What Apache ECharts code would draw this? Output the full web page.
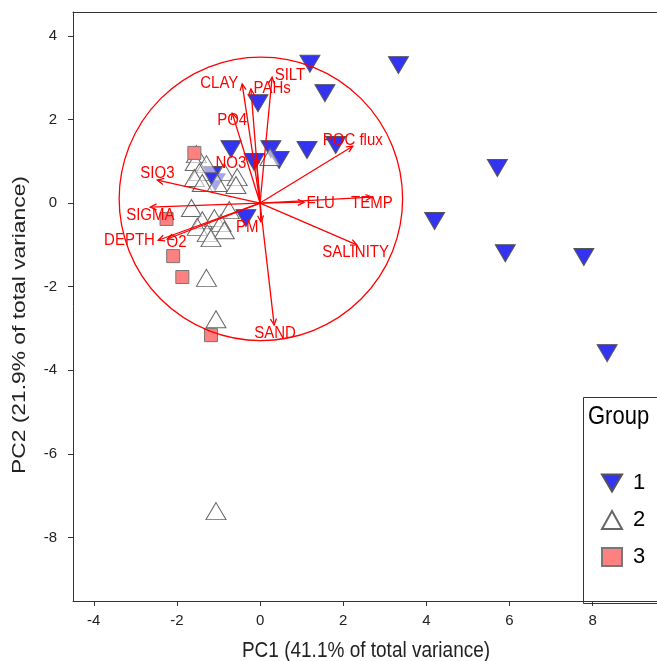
<!DOCTYPE html>
<html><head><meta charset="utf-8">
<script src="https://cdn.jsdelivr.net/npm/echarts@6/dist/echarts.min.js"></script>
<style>html,body{margin:0;padding:0;background:#fff}#c{width:657px;height:661px}</style>
</head><body><div id="c"></div>
<script>
// Group scores (PC1, PC2)
const group1 = [[1.20,3.33],[3.33,3.30],[1.56,2.63],[-0.05,2.39],[-0.70,1.29],[0.26,1.29],[1.13,1.27],[1.82,1.39],[0.46,1.03],[-0.14,0.98],[-1.15,0.67],[-1.08,0.50],[-0.34,-0.36],[5.71,0.84],[4.20,-0.43],[5.90,-1.20],[7.79,-1.29],[8.35,-3.59]];
const group2 = [[-1.53,1.17],[-1.56,0.98],[-1.29,0.93],[-1.46,0.74],[-0.86,0.74],[-0.55,0.62],[-1.58,0.60],[-1.39,0.48],[-1.03,0.48],[-0.58,0.43],[-1.65,-0.12],[-0.74,-0.17],[-1.39,-0.41],[-1.10,-0.36],[-0.94,-0.48],[-1.51,-0.57],[-1.27,-0.72],[-0.86,-0.65],[-1.18,-0.84],[0.24,1.10],[-1.29,-1.79],[-1.06,-2.78],[-1.06,-7.37]];
const group3 = [[-1.58,1.20],[-2.25,-0.38],[-2.09,-1.27],[-1.87,-1.77],[-1.18,-3.16]];
// Variable loadings (arrow tips) and label anchors
const variables = ['CLAY','PAHs','SILT','PO4','POC flux','NO3','SIO3','SIGMA','DEPTH','O2','PM','FLU','TEMP','SALINITY','SAND'];
const loadings = [[-0.43,2.85],[-0.22,2.73],[0.29,3.01],[-0.67,2.15],[2.23,1.36],[-0.10,1.10],[-2.47,0.55],[-2.64,-0.10],[-2.45,-0.89],[-2.23,-0.86],[0.02,-0.45],[1.06,0.02],[2.69,0.14],[2.33,-1.00],[0.34,-2.92]];
const labelAnchors = [[-0.98,2.87],[0.29,2.75],[0.72,3.06],[-0.67,1.99],[2.23,1.51],[-0.70,0.96],[-2.47,0.72],[-2.64,-0.29],[-3.14,-0.89],[-2.01,-0.93],[-0.31,-0.57],[1.46,0.0],[2.69,0.0],[2.30,-1.17],[0.36,-3.11]];
// Correlation circle [cx, cy, r]
const circle = [[0.02,0.1,3.4]];
const xTicks = [-4,-2,0,2,4,6,8];
const yTicks = [4,2,0,-2,-4,-6,-8];
const groups = ['1','2','3'];

const chart = echarts.init(document.getElementById('c'), null, {renderer:'canvas'});
const FONT = '"Liberation Sans", Arial, sans-serif';
const RED = '#ff0000';
const axisCol = '#333';
const DOWN_TRI = 'path://M0,0L20,0L10,17Z';

const arrowData = loadings.map((p,i)=>[p[0],p[1],labelAnchors[i][0],labelAnchors[i][1]]);

chart.setOption({
  animation:false,
  backgroundColor:'#fff',
  grid:{left:73, top:12, right:-2, bottom:60, containLabel:false},
  xAxis:[{
    type:'value', min:-4.5, max:9.55, position:'bottom',
    axisLine:{show:true, onZero:false, lineStyle:{color:axisCol, width:1}},
    axisTick:{show:true, length:5, customValues:xTicks, lineStyle:{color:axisCol}},
    axisLabel:{show:true, customValues:xTicks, fontSize:15, color:'#222', fontFamily:FONT, margin:12},
    splitLine:{show:false}
  },{
    type:'value', min:-4.5, max:9.55, position:'top',
    axisLine:{show:true, onZero:false, lineStyle:{color:axisCol, width:1}},
    axisTick:{show:false}, axisLabel:{show:false}, splitLine:{show:false}
  }],
  yAxis:[{
    type:'value', min:-9.52, max:4.57,
    axisLine:{show:true, onZero:false, lineStyle:{color:axisCol, width:1}},
    axisTick:{show:true, length:5, customValues:yTicks, lineStyle:{color:axisCol}},
    axisLabel:{show:true, customValues:yTicks, fontSize:15, color:'#222', fontFamily:FONT, margin:16},
    splitLine:{show:false}
  }],
  legend:{
    data:[{name:groups[0], icon:DOWN_TRI},{name:groups[1]},{name:groups[2]}],
    orient:'vertical', left:596, top:467, z:20,
    itemWidth:20, itemHeight:18, itemGap:15,
    textStyle:{fontSize:22, color:'#000', fontFamily:FONT, padding:[0,0,0,6]},
    selectedMode:false
  },
  graphic:[
    {type:'rect', left:581, top:395, z:1, shape:{width:90, height:206}, style:{fill:'none', stroke:axisCol, lineWidth:1}, silent:true},
    {type:'text', left:588, top:404, z:2, style:{text:'Group', font:'22px '+FONT, fill:'#000'}, scaleY:1.15},
    {type:'text', x:366, y:651, z:2, scaleY:1.2, style:{text:'PC1 (41.1% of total variance)', font:'19px '+FONT, fill:'#222', align:'center', verticalAlign:'middle'}},
    {type:'text', x:20, y:325, rotation:Math.PI/2, z:2, scaleX:1.2, style:{text:'PC2 (21.9% of total variance)', font:'19px '+FONT, fill:'#222', align:'center', verticalAlign:'middle'}}
  ],
  series:[
    {name:'1', type:'scatter', data:group1, symbol:'triangle', symbolRotate:180, symbolSize:[20,17], z:3,
      itemStyle:{color:'#3333f2', borderColor:'#555', borderWidth:1, opacity:1}},
    {name:'2', type:'scatter', data:group2, symbol:'triangle', symbolSize:[20,17], z:3,
      itemStyle:{color:'rgba(255,255,255,0.55)', borderColor:'#666', borderWidth:1, opacity:1}},
    {name:'3', type:'scatter', data:group3, symbol:'rect', symbolSize:13, z:3,
      itemStyle:{color:'#ff8080', borderColor:'#777', borderWidth:1, opacity:1}},
    {type:'custom', data:circle, z:5, silent:true, encode:{x:0,y:1},
      renderItem:function(params, api){
        const c = api.coord([api.value(0), api.value(1)]);
        const s = api.size([api.value(2), api.value(2)]);
        return {type:'circle', shape:{cx:c[0], cy:c[1], r:(s[0]+s[1])/2}, style:{fill:null, stroke:RED, lineWidth:1.3}};
      }},
    {type:'custom', data:arrowData, z:6, silent:true, encode:{x:[0,2], y:[1,3]},
      renderItem:function(params, api){
        const o = api.coord([0,0]);
        const t = api.coord([api.value(0), api.value(1)]);
        const l = api.coord([api.value(2), api.value(3)]);
        const ang = Math.atan2(t[1]-o[1], t[0]-o[0]);
        const h = 7, a = Math.PI/7;
        const p1 = [t[0]-h*Math.cos(ang-a), t[1]-h*Math.sin(ang-a)];
        const p2 = [t[0]-h*Math.cos(ang+a), t[1]-h*Math.sin(ang+a)];
        return {type:'group', children:[
          {type:'line', shape:{x1:o[0], y1:o[1], x2:t[0], y2:t[1]}, style:{stroke:RED, lineWidth:1.3}},
          {type:'polyline', shape:{points:[p1,t,p2]}, style:{stroke:RED, fill:null, lineWidth:1.3}},
          {type:'text', x:l[0], y:l[1], scaleY:1.15, style:{text:variables[params.dataIndex], fill:RED, font:'15px '+FONT, align:'center', verticalAlign:'middle'}}
        ]};
      }}
  ]
});
</script></body></html>
